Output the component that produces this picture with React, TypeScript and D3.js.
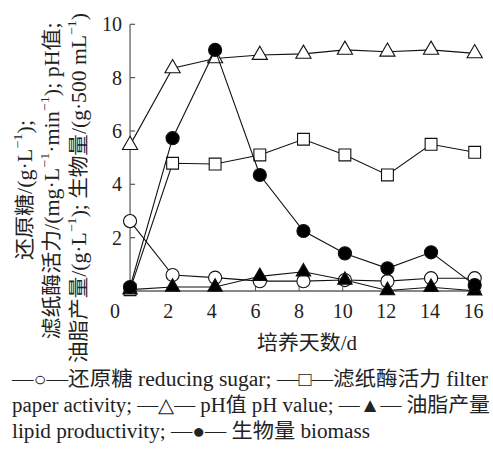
import React from "react";
import * as d3 from "d3";

const days = [0.25, 2.2, 4.15, 6.2, 8.2, 10.1, 12.05, 14.05, 16.05];
const reducingSugar = [2.62, 0.6, 0.5, 0.37, 0.37, 0.41, 0.37, 0.48, 0.48];
const filterPaper = [0.05, 4.79, 4.76, 5.1, 5.69, 5.1, 4.35, 5.5, 5.2];
const phValue = [5.47, 8.35, 8.72, 8.85, 8.89, 9.04, 8.97, 9.04, 8.91];
const lipid = [0.05, 0.15, 0.15, 0.55, 0.72, 0.41, 0.02, 0.14, 0.01];
const biomass = [0.15, 5.73, 9.04, 4.35, 2.25, 1.41, 0.85, 1.45, 0.22];

const xTicks = [2, 4, 6, 8, 10, 12, 14, 16];
const yTicks = [2, 4, 6, 8, 10];

const serif = "Liberation Serif, Times New Roman, DejaVu Serif, Noto Sans CJK SC, serif";

export default function App() {
  const x = d3.scaleLinear().domain([0, 16]).range([124.6, 473.6]);
  const y = d3.scaleLinear().domain([0, 10]).range([291, 24.3]);
  const x0 = x(0.25);
  const line = d3
    .line<[number, number]>()
    .x((d) => x(d[0]))
    .y((d) => y(d[1]));

  const series = [
    { vals: phValue, sym: d3.symbolTriangle, size: 100, fill: "#fff" },
    { vals: filterPaper, sym: d3.symbolSquare, size: 140, fill: "#fff" },
    { vals: reducingSugar, sym: d3.symbolCircle, size: 135, fill: "#fff" },
    { vals: lipid, sym: d3.symbolTriangle, size: 90, fill: "#000" },
    { vals: biomass, sym: d3.symbolCircle, size: 135, fill: "#000" },
  ];

  const sup = (s: string) => (
    <tspan baselineShift="super" fontSize={13}>
      {s}
    </tspan>
  );

  return (
    <svg width={493} height={453} style={{ position: "absolute", left: 0, top: 0, background: "#fff" }}>
      <rect width={493} height={453} fill="#fff" />
      <g style={{ fontFamily: serif }}>
        {/* axes */}
        <line x1={x0} x2={x0} y1={y(10)} y2={y(0)} stroke="#555" strokeWidth={1.2} />
        <line x1={x0} x2={x(16.35)} y1={y(0)} y2={y(0)} stroke="#111" strokeWidth={1.2} />
        {yTicks.map((t) => (
          <g key={"y" + t}>
            <line x1={x0} x2={x0 + 5} y1={y(t)} y2={y(t)} stroke="#555" strokeWidth={1.2} />
            <text x={122} y={y(t)} textAnchor="end" dominantBaseline="central" fontSize={20} fill="#222">
              {t}
            </text>
          </g>
        ))}
        {xTicks.map((t) => (
          <g key={"x" + t}>
            <line x1={x(t)} x2={x(t)} y1={y(0)} y2={y(0) - 5} stroke="#555" strokeWidth={1} />
            <text x={x(t)} y={318} textAnchor="middle" fontSize={20} fill="#222">
              {t}
            </text>
          </g>
        ))}
        <text x={115} y={318} textAnchor="middle" fontSize={20} fill="#222">
          0
        </text>
        <text x={307} y={350} textAnchor="middle" fontSize={20} fill="#222" textLength={100} lengthAdjust="spacingAndGlyphs">
          培养天数/d
        </text>

        {/* y title */}
        <g fontSize={20} fill="#222">
          <text transform="translate(25,190) rotate(-90)" textAnchor="middle" dominantBaseline="central" textLength={140} lengthAdjust="spacingAndGlyphs">
            还原糖/(g·L{sup("−1")});
          </text>
          <text transform="translate(52,181) rotate(-90)" textAnchor="middle" dominantBaseline="central" textLength={317} lengthAdjust="spacingAndGlyphs">
            滤纸酶活力/(mg·L{sup("−1")}·min{sup("−1")}); pH值;
          </text>
          <text transform="translate(79,188) rotate(-90)" textAnchor="middle" dominantBaseline="central" textLength={350} lengthAdjust="spacingAndGlyphs">
            油脂产量/(g·L{sup("−1")}); 生物量/(g·500 mL{sup("−1")})
          </text>
        </g>

        {/* series */}
        {series.map((s, i) => (
          <g key={"s" + i}>
            <path
              d={line(days.map((d, j) => [d, s.vals[j]] as [number, number])) || ""}
              fill="none"
              stroke="#111"
              strokeWidth={1.1}
            />
            {days.map((d, j) => (
              <path
                key={j}
                d={d3.symbol().type(s.sym).size(s.size)() || ""}
                transform={`translate(${x(d)},${y(s.vals[j])})`}
                fill={s.fill}
                stroke="#111"
                strokeWidth={1.1}
              />
            ))}
          </g>
        ))}

        {/* legend */}
        <g fontSize={20} fill="#222">
          <text x={12} y={386} textLength={476} lengthAdjust="spacingAndGlyphs">
            —○—还原糖 reducing sugar; —□—滤纸酶活力 filter
          </text>
          <text x={12} y={412} textLength={478} lengthAdjust="spacingAndGlyphs">
            paper activity; —△— pH值 pH value; —▲— 油脂产量
          </text>
          <text x={12} y={438} textLength={358} lengthAdjust="spacingAndGlyphs">
            lipid productivity; —●— 生物量 biomass
          </text>
        </g>
      </g>
    </svg>
  );
}
